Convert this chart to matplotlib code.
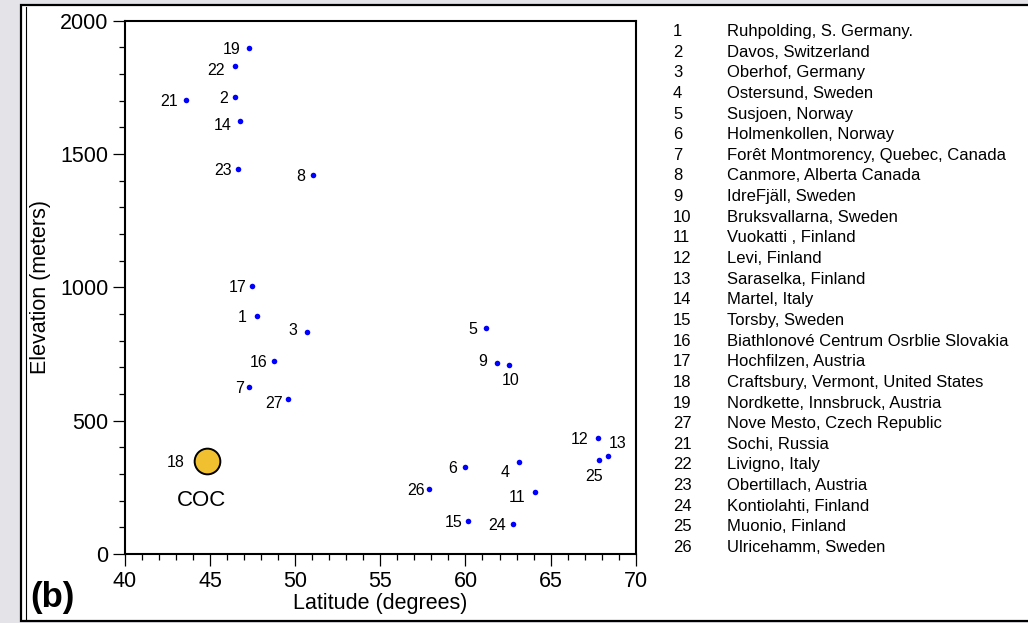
import matplotlib.pyplot as plt
from matplotlib.patches import Rectangle
from matplotlib.lines import Line2D
from matplotlib.ticker import MultipleLocator

plt.rcParams['font.family'] = ['Liberation Sans', 'DejaVu Sans']

# sites
site_ids = [1, 2, 3, 4, 5, 6, 7, 8, 9, 10, 11, 12, 13, 14, 15, 16, 17, 19,
            21, 22, 23, 24, 25, 26, 27]
latitudes = [47.78, 46.48, 50.67, 63.17, 61.19, 59.99, 47.27, 51.07, 61.88, 62.58,
             64.09, 67.77, 68.38, 46.78, 60.17, 48.77, 47.48, 47.29,
             43.58, 46.48, 46.66, 62.78, 67.87, 57.84, 49.58]
elevations = [891, 1712, 834, 344, 846, 328, 625, 1420, 715, 707,
              233, 434, 368, 1622, 124, 725, 1004, 1899,
              1704, 1831, 1444, 111, 354, 244, 583]

# Craftsbury (COC)
coc_id = 18
coc_lat = 44.84
coc_elev = 349

legend_ids = [1, 2, 3, 4, 5, 6, 7, 8, 9, 10, 11, 12, 13, 14, 15, 16, 17, 18, 19,
              27, 21, 22, 23, 24, 25, 26]
legend_names = [
    "Ruhpolding, S. Germany.",
    "Davos, Switzerland",
    "Oberhof, Germany",
    "Ostersund, Sweden",
    "Susjoen, Norway",
    "Holmenkollen, Norway",
    "Forêt Montmorency, Quebec, Canada",
    "Canmore, Alberta Canada",
    "IdreFjäll, Sweden",
    "Bruksvallarna, Sweden",
    "Vuokatti , Finland",
    "Levi, Finland",
    "Saraselka, Finland",
    "Martel, Italy",
    "Torsby, Sweden",
    "Biathlonové Centrum Osrblie Slovakia",
    "Hochfilzen, Austria",
    "Craftsbury, Vermont, United States",
    "Nordkette, Innsbruck, Austria",
    "Nove Mesto, Czech Republic",
    "Sochi, Russia",
    "Livigno, Italy",
    "Obertillach, Austria",
    "Kontiolahti, Finland",
    "Muonio, Finland",
    "Ulricehamm, Sweden",
]

# label placement in pixels (dx, dy, ha); default is left of the dot
label_pos = {
    1: (-11, 0, "right"), 2: (-7, 0, "right"), 3: (-9, 3, "right"),
    4: (-14, -9, "center"), 5: (-8, 0, "right"), 6: (-8, 0, "right"),
    7: (-5, 0, "right"), 8: (-8, 0, "right"), 9: (-10, 3, "right"),
    10: (1, -14, "center"), 11: (-10, -4, "right"), 12: (-9, 0, "right"),
    13: (10, 14, "center"), 14: (-9, -3, "right"), 15: (-6, 0, "right"),
    16: (-7, 0, "right"), 17: (-6, 0, "right"), 19: (-9, 0, "right"),
    21: (-8, 0, "right"), 22: (-11, -3, "right"), 23: (-7, 0, "right"),
    24: (-7, 0, "right"), 25: (-5, -15, "center"), 26: (-4, 0, "right"),
    27: (-5, -3, "right"),
}

W, H = 1028, 623
fig = plt.figure(figsize=(W / 100, H / 100), dpi=100)
fig.patch.set_facecolor("#e3e3e8")

# white panel with black frame
fig.add_artist(Rectangle((21 / W, 1 - 621 / H), (W - 21 + 5) / W, (621 - 5) / H,
                         transform=fig.transFigure, facecolor="white",
                         edgecolor="black", lw=1.6, zorder=-5))
fig.add_artist(Line2D([25.5 / W, 25.5 / W], [1 - 619 / H, 1 - 7 / H],
                      transform=fig.transFigure, color="black", lw=0.8))

ax = fig.add_axes([125 / W, 69 / H, 510.7 / W, 533.3 / H])
ax.set_xlim(40, 70)
ax.set_ylim(0, 2000)

ax.plot(latitudes, elevations, "o", color="#0000ff", ms=4, mew=0, zorder=3)
for sid, la, el in zip(site_ids, latitudes, elevations):
    dx, dy, ha = label_pos[sid]
    ax.annotate(str(sid), (la, el), xytext=(dx, dy), textcoords="offset pixels",
                ha=ha, va="center_baseline", fontsize=11.5)

ax.plot([coc_lat], [coc_elev], "o", color="#f0c030", ms=18.5, mec="black",
        mew=1.4, zorder=4)
ax.annotate(str(coc_id), (coc_lat, coc_elev), xytext=(-23, 0),
            textcoords="offset pixels", ha="right", va="center_baseline", fontsize=11.5)
ax.annotate("COC", (coc_lat, coc_elev), xytext=(-6, -37),
            textcoords="offset pixels", ha="center", va="center_baseline", fontsize=16)

ax.xaxis.set_major_locator(MultipleLocator(5))
ax.xaxis.set_minor_locator(MultipleLocator(1))
ax.yaxis.set_major_locator(MultipleLocator(500))
ax.yaxis.set_minor_locator(MultipleLocator(100))
ax.tick_params(which="both", direction="out", top=False, right=False,
               labelsize=15.5, width=0.9)
ax.tick_params(which="major", length=8.6, pad=3.5)
ax.tick_params(which="minor", length=4.3)
for sp in ax.spines.values():
    sp.set_linewidth(1.5)

ax.set_xlabel("Latitude (degrees)", fontsize=15.5, labelpad=1)
ax.set_ylabel("Elevation (meters)", fontsize=15.5, labelpad=6)

fig.text(30 / W, 1 - 597 / H, "(b)", fontsize=25, fontweight="bold",
         ha="left", va="center")

# site list on the right
row_h = 20.64
for i, (lid, name) in enumerate(zip(legend_ids, legend_names)):
    y = 1 - (30 + i * row_h) / H
    fig.text(673 / W, y, str(lid), fontsize=12, ha="left", va="center_baseline")
    fig.text(727 / W, y, name, fontsize=12, ha="left", va="center_baseline")

fig.savefig("out.png", dpi=100, facecolor=fig.get_facecolor())
